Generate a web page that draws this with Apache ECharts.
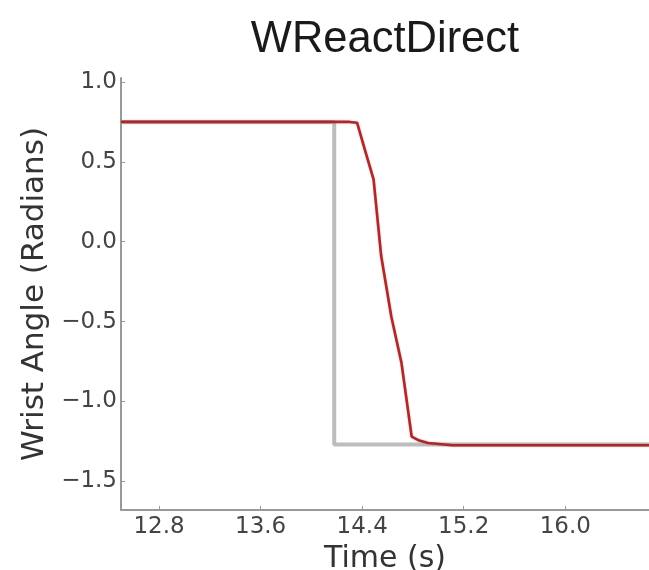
<!DOCTYPE html>
<html><head><meta charset="utf-8">
<script src="https://cdn.jsdelivr.net/npm/echarts@6/dist/echarts.min.js"></script>
<style>html,body{margin:0;padding:0;background:#fff}#c{width:649px;height:570px}</style>
</head><body><div id="c"></div>
<script>
const titleText = 'WReactDirect';
const xName = 'Time (s)';
const yName = 'Wrist Angle (Radians)';
const xTicks = [12.8, 13.6, 14.4, 15.2, 16.0];
const yTicks = [1.0, 0.5, 0.0, -0.5, -1.0, -1.5];
const targetTime = [12.5, 14.18, 14.18, 16.66];
const targetAngle = [0.75, 0.75, -1.27, -1.27];
const wristTime = [12.5, 14.30, 14.36, 14.42, 14.49, 14.55, 14.63, 14.71, 14.79, 14.85, 14.92, 15.11, 16.66];
const wristAngle = [0.75, 0.75, 0.745, 0.58, 0.39, -0.09, -0.47, -0.76, -1.22, -1.245, -1.26, -1.275, -1.275];

const fmt = v => Number(v).toFixed(1).replace('-', '\u2212');
const chart = echarts.init(document.getElementById('c'));
chart.setOption({
  animation: false,
  backgroundColor: '#fff',
  title: {text: titleText, left: 380, top: 13, textAlign: 'center',
    textStyle: {fontFamily: 'Liberation Sans', fontSize: 43.5, fontWeight: 'normal', color: '#1a1a1a'}},
  grid: {left: 121, right: 0, top: 78, bottom: 60, outerBoundsMode: 'none', containLabel: false},
  xAxis: {type: 'value', min: 12.5, max: 16.66,
    name: xName, nameLocation: 'middle', nameGap: 26,
    nameTextStyle: {fontFamily: 'DejaVu Sans', fontSize: 30, color: '#333'},
    axisLine: {show: true, onZero: false, lineStyle: {color: '#999', width: 2}},
    axisTick: {show: true, inside: true, length: 4, customValues: xTicks, lineStyle: {color: '#999'}},
    axisLabel: {customValues: xTicks, formatter: fmt, margin: 6,
      fontFamily: 'DejaVu Sans', fontSize: 23, color: '#444'},
    splitLine: {show: false}},
  yAxis: {type: 'value', min: -1.68, max: 1.025,
    name: yName, nameLocation: 'middle', nameGap: 66, nameRotate: 90,
    nameTextStyle: {fontFamily: 'DejaVu Sans', fontSize: 31, color: '#333'},
    axisLine: {show: true, onZero: false, lineStyle: {color: '#999', width: 2}},
    axisTick: {show: true, inside: true, length: 4, customValues: yTicks, lineStyle: {color: '#999'}},
    axisLabel: {customValues: yTicks, formatter: fmt, margin: 4,
      fontFamily: 'DejaVu Sans', fontSize: 23, color: '#444'},
    splitLine: {show: false}},
  series: [
    {type: 'line', data: targetTime.map((t, i) => [t, targetAngle[i]]),
      showSymbol: false, lineStyle: {color: '#bdbdbd', width: 4}, z: 2},
    {type: 'line', data: wristTime.map((t, i) => [t, wristAngle[i]]),
      showSymbol: false, lineStyle: {color: '#a82a2a', width: 2.6, shadowColor: 'rgba(220,80,80,0.5)', shadowBlur: 2}, z: 3}
  ]
});
</script></body></html>
